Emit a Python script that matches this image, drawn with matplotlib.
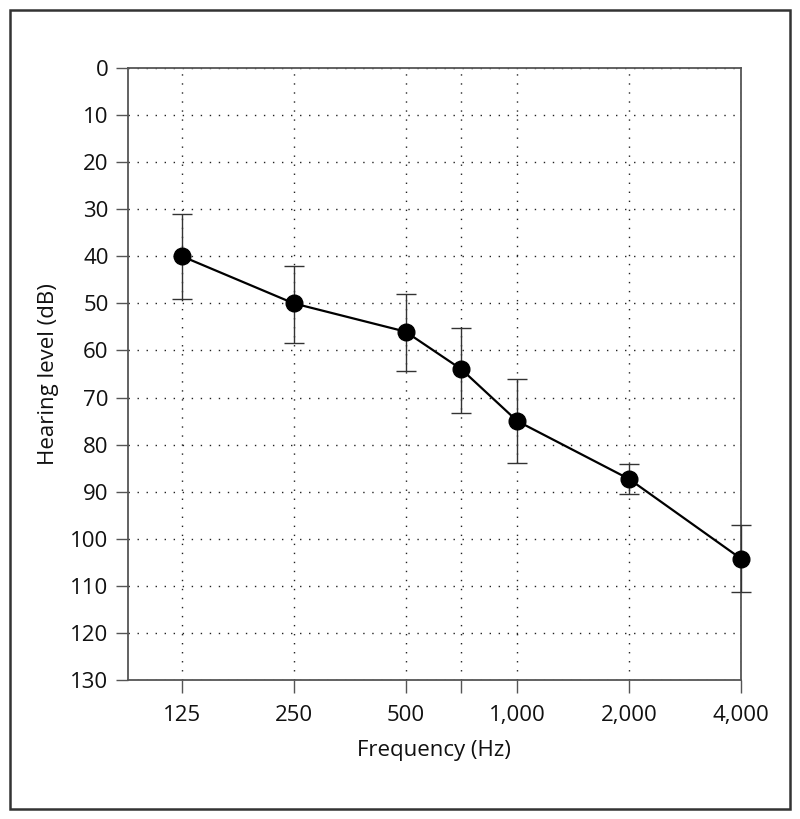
import matplotlib
matplotlib.use("Agg")
import numpy as np
import matplotlib.pyplot as plt
from matplotlib.patches import Rectangle
from matplotlib.ticker import FixedLocator, NullLocator

plt.rcParams['font.family'] = ['Open Sans', 'DejaVu Sans']

freqs = [125, 250, 500, 750, 1000, 2000, 4000]
tick_labels = ['125', '250', '500', '', '1,000', '2,000', '4,000']
levels = [40, 50, 56, 64, 75, 87.3, 104.2]
err_low = [31, 42, 48, 55.3, 66, 84.2, 97]
err_high = [49, 58.5, 64.3, 73.3, 84, 90.4, 111.3]

yticks = list(range(0, 131, 10))

# audiogram x-axis: octave positions, inter-octave frequencies at half-octave
xpos = [round(2 * np.log2(f / 125)) / 2 for f in freqs]

fig = plt.figure(figsize=(8, 8.19), dpi=100)
ax = fig.add_axes([0.16, 0.1697, 0.766, 0.7473])

lower = [l - lo for l, lo in zip(levels, err_low)]
upper = [hi - l for l, hi in zip(levels, err_high)]
eb = ax.errorbar(xpos, levels, yerr=[lower, upper], fmt='none', ecolor='#333333',
                 elinewidth=1.0, capsize=7, capthick=1.0, zorder=3)
for artist in eb.lines[1] + eb.lines[2]:
    artist.set_clip_on(False)
ax.plot(xpos, levels, color='black', lw=1.6, marker='o', markersize=12,
        markerfacecolor='black', markeredgecolor='black', zorder=4, clip_on=False)

ax.set_xlim(-0.483, 5)
ax.set_ylim(130, 0)
ax.xaxis.set_major_locator(FixedLocator(xpos))
ax.xaxis.set_minor_locator(NullLocator())
ax.set_xticklabels(tick_labels)
ax.set_yticks(yticks)

ax.grid(True, which='major', linestyle=(0, (1, 5.5)), color='#222222', lw=1.0)
for s in ['left', 'bottom', 'top', 'right']:
    ax.spines[s].set_color('#555555')
    ax.spines[s].set_linewidth(1.3)
ax.tick_params(axis='both', direction='out', length=9, width=1.0, color='#555555',
               labelsize=16, labelcolor='#111111')
ax.tick_params(axis='x', pad=9)
ax.tick_params(axis='y', pad=5)

ax.set_xlabel('Frequency (Hz)', fontsize=16, labelpad=10, color='#111111')
ax.set_ylabel('Hearing level (dB)', fontsize=16, labelpad=8, color='#111111')

fig.patches.append(Rectangle((0.012, 0.012), 0.976, 0.976, transform=fig.transFigure,
                             fill=False, edgecolor='#333333', lw=1.8))

fig.savefig('out.png', dpi=100)
